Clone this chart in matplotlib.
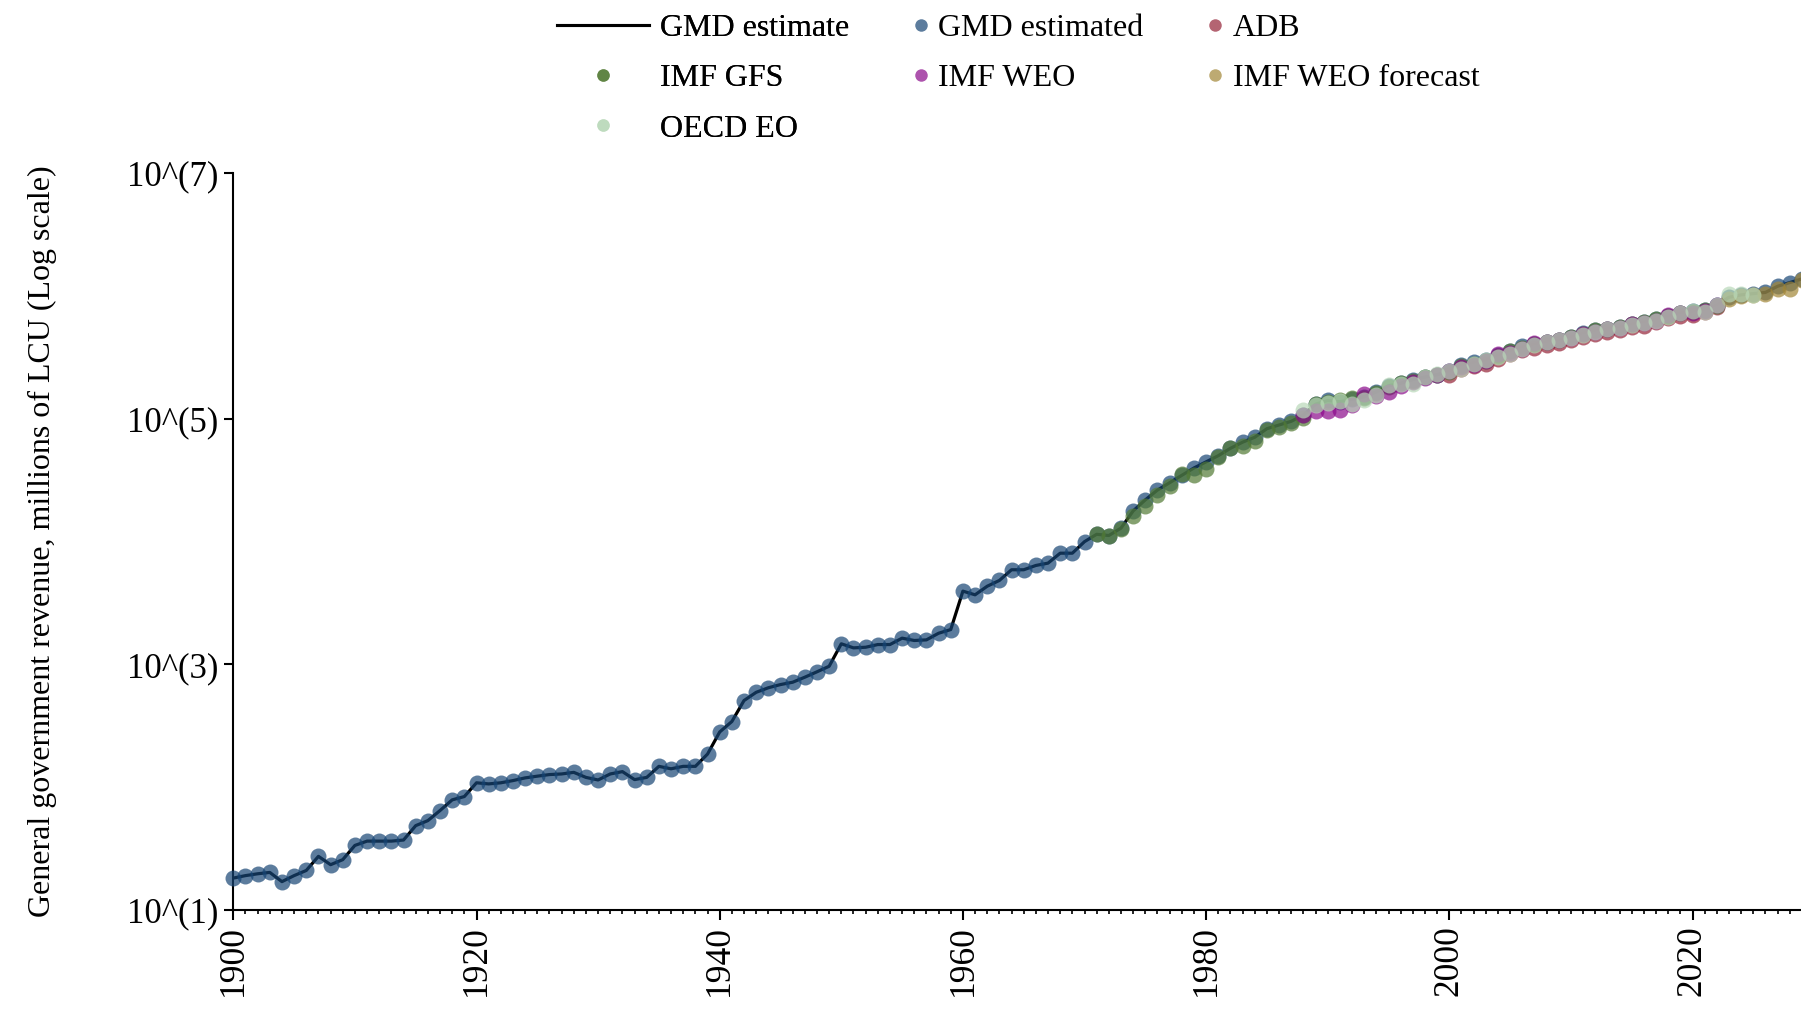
import matplotlib

matplotlib.use("Agg")

import matplotlib.pyplot as plt
from matplotlib.lines import Line2D
from matplotlib.ticker import FixedLocator, MultipleLocator, NullLocator

plt.rcParams["font.family"] = ["Liberation Serif", "DejaVu Serif"]

# GMD estimate (log10 of millions of LCU), one value per year 1900-2029
gmd_years = list(range(1900, 2030))
gmd_log = [
    1.26, 1.28, 1.295, 1.306, 1.231, 1.28, 1.322, 1.437, 1.369, 1.41,
    1.526, 1.561, 1.561, 1.561, 1.57, 1.687, 1.728, 1.81, 1.897, 1.924,
    2.036, 2.027, 2.036, 2.054, 2.076, 2.09, 2.103, 2.108, 2.121, 2.08,
    2.059, 2.108, 2.127, 2.062, 2.08, 2.17, 2.15, 2.17, 2.17, 2.27,
    2.45, 2.535, 2.706, 2.773, 2.81, 2.836, 2.855, 2.896, 2.94, 2.985,
    3.168, 3.135, 3.14, 3.162, 3.162, 3.214, 3.195, 3.20, 3.254, 3.284,
    3.597, 3.567, 3.637, 3.684, 3.771, 3.771, 3.806, 3.825, 3.906, 3.906,
    4.00, 4.06, 4.05, 4.11, 4.25, 4.34, 4.42, 4.48, 4.54, 4.60,
    4.65, 4.70, 4.76, 4.81, 4.85, 4.92, 4.95, 4.98, 5.03, 5.12,
    5.15, 5.14, 5.16, 5.18, 5.22, 5.27, 5.29, 5.32, 5.34, 5.36,
    5.39, 5.44, 5.46, 5.48, 5.52, 5.555, 5.59, 5.61, 5.63, 5.645,
    5.67, 5.70, 5.72, 5.735, 5.75, 5.775, 5.79, 5.815, 5.84, 5.865,
    5.875, 5.89, 5.93, 5.99, 6.01, 6.02, 6.03, 6.08, 6.11, 6.14,
]

adb_years = list(range(2000, 2023))
adb_log = [
    5.36, 5.41, 5.43, 5.45, 5.49, 5.53, 5.56, 5.58, 5.60, 5.62,
    5.64, 5.67, 5.69, 5.71, 5.72, 5.75, 5.76, 5.79, 5.82, 5.84,
    5.85, 5.87, 5.91,
]

gfs_years = list(range(1971, 2023))
gfs_log = [
    4.06, 4.05, 4.10, 4.21, 4.29, 4.38, 4.45, 4.55, 4.54, 4.59,
    4.69, 4.76, 4.78, 4.82, 4.91, 4.93, 4.97, 5.01, 5.12, 5.14,
    5.15, 5.17, 5.17, 5.21, 5.26, 5.29, 5.31, 5.34, 5.36, 5.38,
    5.43, 5.45, 5.47, 5.51, 5.55, 5.58, 5.61, 5.63, 5.64, 5.67,
    5.69, 5.72, 5.73, 5.75, 5.77, 5.79, 5.81, 5.84, 5.86, 5.87,
    5.89, 5.92,
]

weo_years = list(range(1988, 2023))
weo_log = [
    5.03, 5.06, 5.065, 5.07, 5.11, 5.20, 5.19, 5.22, 5.27, 5.30,
    5.33, 5.36, 5.39, 5.42, 5.44, 5.47, 5.53, 5.54, 5.57, 5.62,
    5.63, 5.64, 5.66, 5.69, 5.71, 5.73, 5.74, 5.77, 5.78, 5.80,
    5.85, 5.86, 5.86, 5.88, 5.93,
]

weo_fc_years = list(range(2023, 2030))
weo_fc_log = [5.98, 6.00, 6.01, 6.02, 6.06, 6.06, 6.13]

oecd_years = list(range(1988, 2026))
oecd_log = [
    5.07, 5.11, 5.13, 5.145, 5.12, 5.157, 5.197, 5.273, 5.281, 5.287,
    5.34, 5.368, 5.39, 5.41, 5.45, 5.477, 5.50, 5.53, 5.57, 5.60,
    5.626, 5.64, 5.66, 5.68, 5.71, 5.73, 5.74, 5.765, 5.78, 5.80,
    5.83, 5.86, 5.875, 5.87, 5.925, 6.02, 6.02, 6.006,
]

y_ticks = [1, 3, 5, 7]

COLORS = {
    "GMD estimated": "#174574",
    "ADB": "#942237",
    "IMF GFS": "#527A33",
    "IMF WEO": "#8B0A8B",
    "IMF WEO forecast": "#A28637",
    "OECD EO": "#B8D8B8",
}
ALPHA = 0.7
MS = 11.5
LEG_MS = 9


def to_level(vals):
    return [10 ** v for v in vals]


def main():
    fig = plt.figure(figsize=(18.01, 10.11), dpi=100)
    W, H = 1801, 1011
    x0, x1 = 233.3, 1801
    yb, yt = 910, 173.3
    ax = fig.add_axes([x0 / W, (H - yb) / H, (x1 - x0) / W, (yb - yt) / H])

    ax.plot(gmd_years, to_level(gmd_log), color="black", lw=2.3, zorder=2)

    series = [
        ("GMD estimated", gmd_years, gmd_log),
        ("ADB", adb_years, adb_log),
        ("IMF GFS", gfs_years, gfs_log),
        ("IMF WEO", weo_years, weo_log),
        ("IMF WEO forecast", weo_fc_years, weo_fc_log),
        ("OECD EO", oecd_years, oecd_log),
    ]
    for name, yrs, vals in series:
        ax.plot(yrs, to_level(vals), ls="none", marker="o", ms=MS, mew=0,
                color=COLORS[name], alpha=ALPHA, zorder=3, clip_on=False)

    ax.set_yscale("log")
    ax.set_ylim(10, 1e7)
    ax.set_xlim(1900, 1900 + (x1 - x0) / 12.16)
    ax.yaxis.set_major_locator(FixedLocator([10 ** k for k in y_ticks]))
    ax.yaxis.set_minor_locator(NullLocator())
    ax.set_yticklabels([f"10^({k})" for k in y_ticks])
    ax.xaxis.set_major_locator(MultipleLocator(20))
    ax.xaxis.set_minor_locator(MultipleLocator(1))
    ax.tick_params(axis="x", which="major", labelsize=25.5, length=7.5, width=1.5,
                   labelrotation=90)
    ax.tick_params(axis="x", which="minor", length=3, width=1.2)
    ax.tick_params(axis="y", which="major", labelsize=25, length=6.5, width=1.5,
                   pad=4.5)
    for side in ("top", "right"):
        ax.spines[side].set_visible(False)
    for side in ("left", "bottom"):
        ax.spines[side].set_linewidth(1.5)
    ax.set_ylabel("General government revenue, millions of LCU (Log scale)",
                  fontsize=23, labelpad=50)

    def dot(name):
        return Line2D([], [], ls="none", marker="o", ms=LEG_MS, mew=0,
                      color=COLORS[name], alpha=ALPHA)

    line_handle = Line2D([], [], color="black", lw=2.2)
    common = dict(loc="upper left", frameon=False, fontsize=23, borderpad=0,
                  borderaxespad=0, labelspacing=0.65)
    leg_a = fig.legend(
        [line_handle, dot("IMF GFS"), dot("OECD EO")],
        ["GMD estimate", "IMF GFS", "OECD EO"],
        bbox_to_anchor=(557 / W, 1 - 14 / H),
        handlelength=2.88, handletextpad=0.35, **common,
    )
    fig.legend(
        [dot("GMD estimated"), dot("IMF WEO"), dot("ADB"), dot("IMF WEO forecast")],
        ["GMD estimated", "IMF WEO", "ADB", "IMF WEO forecast"],
        ncol=2, bbox_to_anchor=(911 / W, 1 - 14 / H),
        handlelength=0.6, handletextpad=0.25, columnspacing=1.95, **common,
    )
    fig.add_artist(leg_a)

    fig.savefig("out.png", dpi=100)
    plt.close(fig)


if __name__ == "__main__":
    main()
